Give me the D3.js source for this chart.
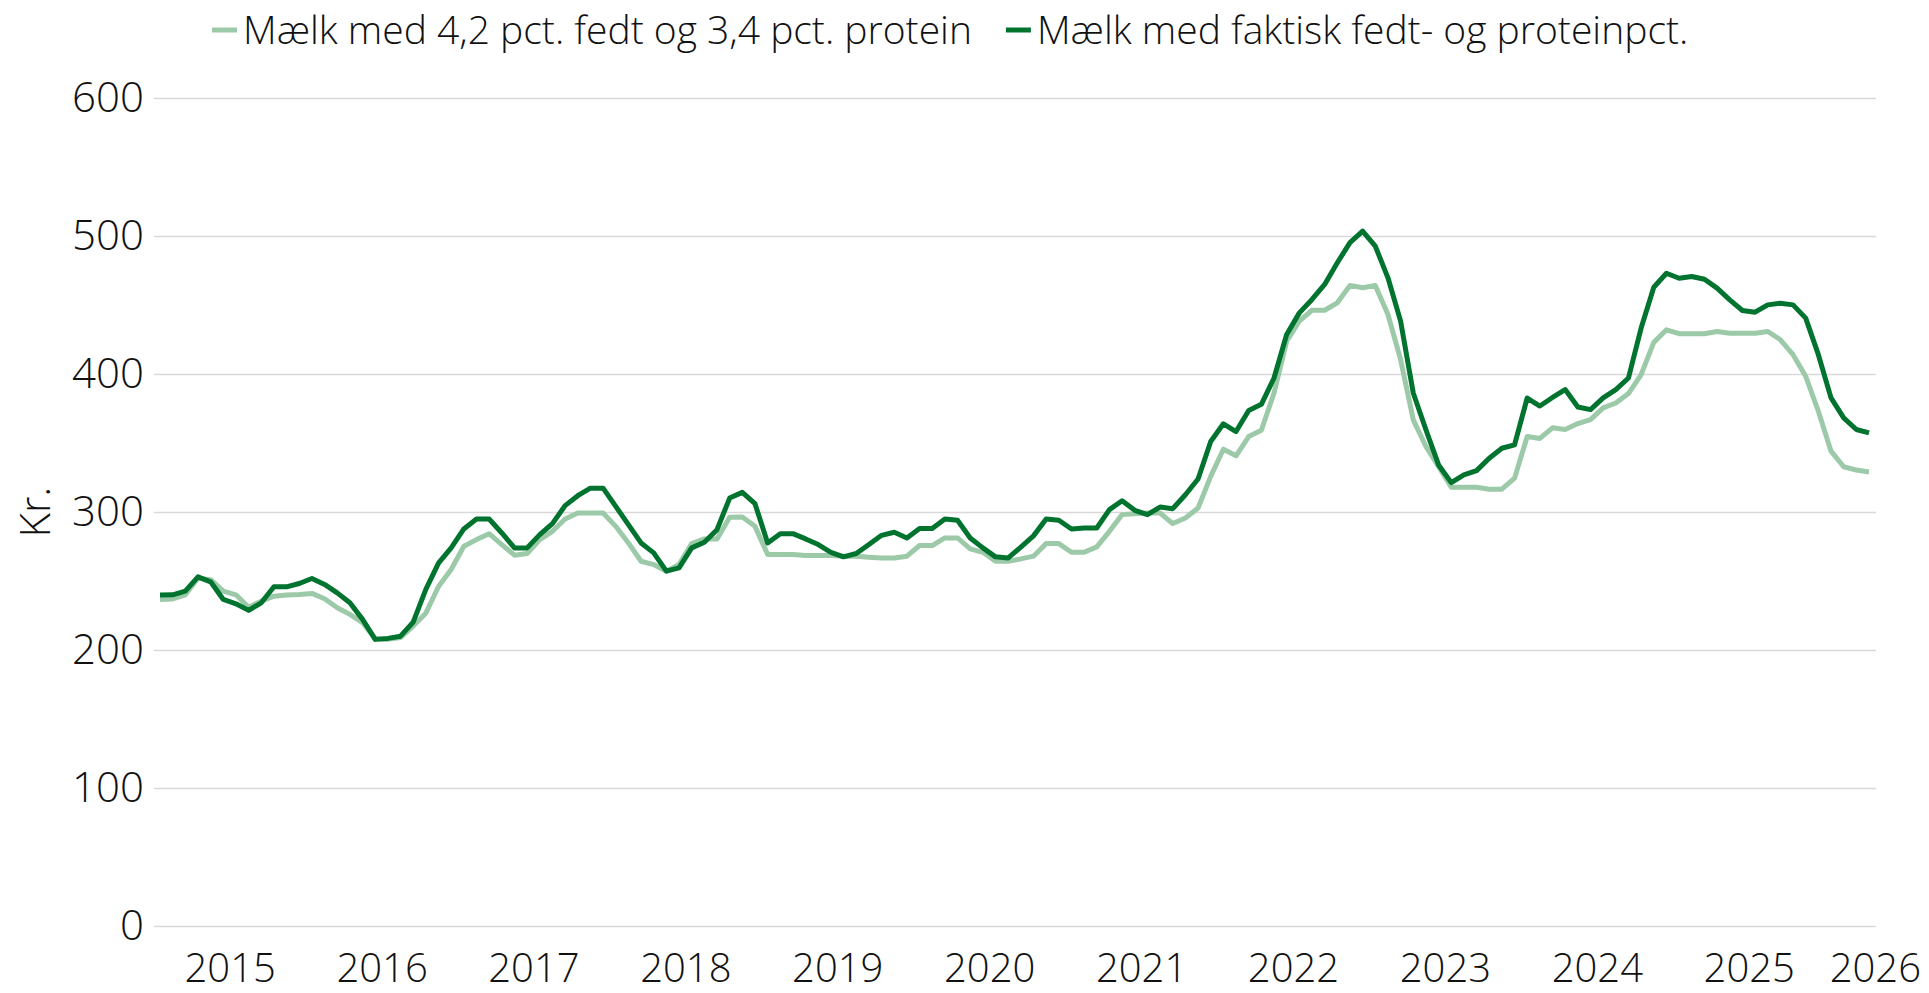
<!DOCTYPE html>
<html lang="da">
<head>
<meta charset="utf-8">
<script src="https://cdn.jsdelivr.net/npm/d3@7"></script>
<style>
  html, body { margin: 0; padding: 0; background: #fff; }
  svg { display: block; font-family: "Open Sans", "Noto Sans", sans-serif; font-weight: 300; }
</style>
</head>
<body>
<svg id="chart" width="1929" height="993"></svg>
<script>
// Monthly milk price, kr. per 100 kg, January 2015 to April 2026
const startYear = 2015;
const seriesNames = [
  "Mælk med 4,2 pct. fedt og 3,4 pct. protein",
  "Mælk med faktisk fedt- og proteinpct."
];
const seriesColors = ["#9ccaa9", "#00742f"];

const standardMilk = [
  236.6, 237.0, 240.0, 252.0, 251.0, 242.7, 240.0, 231.0, 235.4, 239.0, 239.8, 240.2,
  241.0, 237.1, 230.6, 225.8, 219.8, 208.2, 207.7, 209.0, 217.3, 226.7, 246.0, 258.3,
  275.2, 280.0, 284.3, 276.4, 268.7, 269.9, 280.0, 286.0, 294.9, 299.3, 299.3, 299.3,
  289.6, 277.6, 264.3, 261.9, 257.1, 261.9, 277.1, 280.5, 280.5, 296.2, 296.4, 289.6,
  269.2, 269.2, 269.2, 268.4, 268.4, 268.4, 268.0, 268.0, 267.2, 266.7, 266.7, 268.0,
  275.7, 275.7, 281.2, 281.2, 273.3, 270.8, 264.3, 264.3, 266.0, 268.0, 277.1, 277.1,
  270.8, 270.8, 274.7, 286.0, 298.1, 298.8, 299.3, 299.3, 291.6, 295.7, 302.9, 325.8,
  345.5, 340.7, 354.7, 359.2, 386.2, 423.7, 438.3, 446.2, 446.2, 451.6, 464.2, 462.5,
  464.2, 443.1, 410.4, 366.8, 347.5, 332.9, 317.9, 317.9, 317.9, 316.5, 316.5, 324.5,
  354.7, 353.3, 361.0, 359.8, 364.1, 367.0, 375.4, 379.0, 385.8, 399.5, 422.9, 432.0,
  429.2, 429.2, 429.2, 430.8, 429.6, 429.6, 429.6, 430.8, 424.8, 414.0, 398.3, 373.0,
  344.1, 332.8, 330.4, 329.0
];

const actualMilk = [
  239.8, 240.0, 242.7, 253.0, 249.4, 236.6, 233.5, 228.7, 234.2, 245.8, 245.8, 248.2,
  251.8, 247.5, 241.4, 234.2, 222.2, 207.7, 208.4, 210.0, 220.2, 243.9, 263.0, 274.0,
  287.7, 294.9, 294.9, 284.8, 274.0, 274.0, 283.6, 291.6, 304.6, 311.8, 317.3, 317.3,
  304.1, 290.8, 277.6, 270.4, 257.1, 259.5, 274.0, 278.1, 287.2, 310.1, 314.2, 306.0,
  277.6, 284.3, 284.3, 280.5, 276.4, 270.8, 267.5, 269.9, 276.4, 283.1, 285.3, 281.2,
  288.0, 288.0, 294.9, 294.0, 281.2, 274.0, 267.5, 266.7, 274.6, 282.7, 294.9, 294.0,
  287.7, 288.4, 288.4, 301.7, 308.2, 301.2, 298.1, 303.6, 302.4, 312.5, 323.9, 351.1,
  363.9, 358.3, 373.6, 378.0, 397.1, 428.6, 444.3, 454.0, 464.9, 480.6, 495.2, 503.6,
  492.7, 469.7, 438.3, 386.2, 359.6, 334.1, 321.3, 326.9, 330.0, 339.0, 346.2, 348.7,
  382.6, 376.8, 383.0, 388.7, 376.1, 374.2, 382.7, 388.7, 397.1, 433.3, 462.9, 473.0,
  469.4, 470.6, 468.7, 462.2, 453.7, 446.0, 444.8, 450.1, 451.3, 450.1, 440.5, 414.0,
  382.7, 368.2, 359.8, 357.3
];

const yTicks = [0, 100, 200, 300, 400, 500, 600];
const yearLabels = [2015, 2016, 2017, 2018, 2019, 2020, 2021, 2022, 2023, 2024, 2025, 2026];
const yTitle = "Kr.";

const W = 1929, H = 993;
const plot = { left: 154, right: 1876, top: 98, bottom: 926 };

const svg = d3.select("#chart");

// Each month is placed at its middle; year labels sit at the middle of the year
const monthPos = i => startYear + i / 12 + 1 / 24;
const nMonths = standardMilk.length;

const x = d3.scaleLinear()
  .domain([monthPos(0), monthPos(nMonths - 1)])
  .range([160, 1869]);

const y = d3.scaleLinear()
  .domain([0, 600])
  .range([plot.bottom, plot.top]);

// Horizontal gridlines and value labels
const yAxis = d3.axisLeft(y)
  .tickValues(yTicks)
  .tickSize(-(plot.right - plot.left))
  .tickPadding(10)
  .tickFormat(d3.format("d"));

const gy = svg.append("g")
  .attr("transform", `translate(${plot.left},0)`)
  .call(yAxis);
gy.select(".domain").remove();
gy.selectAll(".tick line").attr("stroke", "#d9d9d9").attr("stroke-width", 1.6);
gy.selectAll(".tick text")
  .attr("fill", "#111")
  .attr("font-size", 42)
  .attr("font-family", "\"Open Sans\", \"Noto Sans\", sans-serif")
  .attr("font-weight", 300);

// Year labels along the bottom
const xAxis = d3.axisBottom(x)
  .tickValues(yearLabels.map(yr => yr + 0.5))
  .tickSize(0)
  .tickPadding(0)
  .tickFormat(v => String(Math.round(v - 0.5)));

const gx = svg.append("g")
  .attr("transform", `translate(0,${plot.bottom})`)
  .call(xAxis);
gx.select(".domain").remove();
gx.selectAll(".tick text")
  .attr("fill", "#111")
  .attr("font-size", 40)
  .attr("font-family", "\"Open Sans\", \"Noto Sans\", sans-serif")
  .attr("font-weight", 300)
  .attr("dy", null)
  .attr("y", 56);

// Keep the last year label inside the canvas
gx.selectAll(".tick").each(function () {
  const t = d3.select(this).select("text");
  const box = this.getBBox();
  const tr = d3.select(this).attr("transform");
  const tx = +tr.match(/translate\(([-\d.]+)/)[1];
  const overflow = tx + box.x + box.width - (W - 8);
  if (overflow > 0) t.attr("x", -overflow);
});

// Axis title
svg.append("text")
  .attr("transform", `translate(50,512) rotate(-90)`)
  .attr("text-anchor", "middle")
  .attr("font-size", 42)
  .attr("fill", "#111")
  .text(yTitle);

// Lines
const line = d3.line()
  .x((d, i) => x(monthPos(i)))
  .y(d => y(d));

[standardMilk, actualMilk].forEach((vals, k) => {
  svg.append("path")
    .datum(vals)
    .attr("fill", "none")
    .attr("stroke", seriesColors[k])
    .attr("stroke-width", 5)
    .attr("stroke-linejoin", "round")
    .attr("d", line);
});

// Legend
const legend = svg.append("g").attr("transform", "translate(212,30)");
let cursor = 0;
seriesNames.forEach((name, k) => {
  const item = legend.append("g").attr("transform", `translate(${cursor},0)`);
  item.append("line")
    .attr("x1", 0).attr("x2", 25)
    .attr("y1", 0).attr("y2", 0)
    .attr("stroke", seriesColors[k])
    .attr("stroke-width", 5);
  const txt = item.append("text")
    .attr("x", 31)
    .attr("y", 14)
    .attr("font-size", 39)
    .attr("fill", "#111")
    .text(name);
  cursor += 31 + txt.node().getComputedTextLength() + 34;
});
</script>
</body>
</html>
